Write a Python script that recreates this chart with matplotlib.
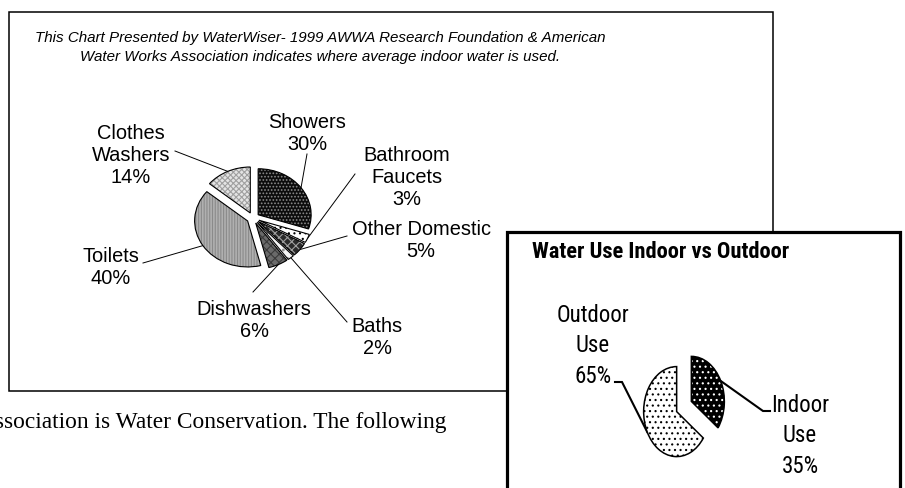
import matplotlib
matplotlib.use('Agg')
import matplotlib.pyplot as plt
import numpy as np
from matplotlib.patches import Rectangle
from matplotlib import font_manager as fm

# ---------------- data ----------------
indoor_categories = ['Showers', 'Bathroom\nFaucets', 'Other Domestic', 'Baths',
                     'Dishwashers', 'Toilets', 'Clothes\nWashers']
indoor_values = [30, 3, 5, 2, 6, 40, 14]
split_categories = ['Indoor\nUse', 'Outdoor\nUse']
split_values = [35, 65]
chart1_title = ['This Chart Presented by WaterWiser- 1999 AWWA Research Foundation & American',
                'Water Works Association indicates where average indoor water is used.']
chart2_title = 'Water Use Indoor vs Outdoor'
body_text = 'Association is Water Conservation. The following'

# ---------------- fonts ----------------
W, H = 905, 489
ARIAL = ['Liberation Sans', 'DejaVu Sans']
SERIF = ['Liberation Serif', 'DejaVu Serif']


def _wt(f):
    w = f.weight
    if isinstance(w, str):
        w = fm.weight_dict.get(w, 400)
    return w


def find_narrow(bold):
    prefs = ['Liberation Sans Narrow', 'Arial Narrow', 'Roboto Condensed',
             'Open Sans Condensed', 'Noto Sans Condensed', 'DejaVu Sans Condensed']
    entries = fm.fontManager.ttflist
    for p in prefs:
        for f in entries:
            if f.name == p and f.style == 'normal' and ((_wt(f) >= 600) == bold):
                return f.fname
    for f in entries:
        if (('Narrow' in f.name or 'Condensed' in f.name or 'condensed' in str(f.stretch))
                and f.style == 'normal' and ((_wt(f) >= 600) == bold)):
            return f.fname
    return None


nar_reg = find_narrow(False)
nar_bold = find_narrow(True)
if nar_reg:
    fp_lab = fm.FontProperties(fname=nar_reg, size=16.5)
else:
    fp_lab = fm.FontProperties(family=ARIAL, size=14.5)
if nar_bold:
    fp_ttl = fm.FontProperties(fname=nar_bold, size=16.2)
elif nar_reg:
    fp_ttl = fm.FontProperties(fname=nar_reg, size=16.2, weight='bold')
else:
    fp_ttl = fm.FontProperties(family=ARIAL, size=13.4, weight='bold')

plt.rcParams['hatch.linewidth'] = 0.8

# pie 1 styling
p1_faces = ['#0c0c0c', '#ffffff', '#2a2a2a', '#f4f4f4', '#6a6a6a', '#b0b0b0', '#e4e4e4']
p1_hatchc = ['#8c8c8c', '#000000', '#a0a0a0', '#909090', '#3a3a3a', '#8a8a8a', '#a0a0a0']
p1_hatch = ['.....', '...', 'xxxx', '..', 'xxxx', '||||||', 'xxxxxx']
# label layout: (center x, first baseline, attach x, attach y)
p1_label_pos = [(307, 128, 307, 155), (407, 161, 355, 175), (421, 235, 347, 237),
                (377, 332, 347, 323), (254, 315, 253, 293), (111, 262, 143, 264),
                (131, 139, 175, 152)]

fig = plt.figure(figsize=(W / 100, H / 100), dpi=100)
ax = fig.add_axes([0, 0, 1, 1])
ax.set_xlim(0, W)
ax.set_ylim(H, 0)
ax.axis('off')

# boxes
ax.add_patch(Rectangle((8.5, 13), 773 - 8.5, 391.5 - 13, fill=False, ec='black', lw=1.1, zorder=1))
ax.add_patch(Rectangle((507, 233), 900 - 507, 300, fc='white', ec='black', lw=2.3, zorder=2))

# titles and text
ax.text(320, 42, chart1_title[0], ha='center', va='baseline', fontsize=10.9,
        style='italic', family=ARIAL, zorder=3)
ax.text(320, 61, chart1_title[1], ha='center', va='baseline', fontsize=10.9,
        style='italic', family=ARIAL, zorder=3)
ax.text(532, 258, chart2_title, ha='left', va='baseline', fontproperties=fp_ttl, zorder=3)
ax.text(-22, 428, body_text, ha='left', va='baseline', fontsize=16.8, family=SERIF, zorder=3)


def put_lines(x, y0, text, dy, **kw):
    for i, line in enumerate(text.split('\n')):
        ax.text(x, y0 + i * dy, line, ha='center', va='baseline', zorder=3, **kw)


def pie_axes(cx, cy, rx, ry, s=1.6):
    a = fig.add_axes([(cx - s * rx) / W, (H - cy - s * ry) / H, 2 * s * rx / W, 2 * s * ry / H])
    a.set_zorder(5)
    a.patch.set_visible(False)
    return a


def finish(a, s=1.6):
    a.set_aspect('auto')
    a.set_xlim(-s, s)
    a.set_ylim(-s, s)
    a.axis('off')


def to_px(a, x, y):
    d = a.transData.transform((x, y))
    return ax.transData.inverted().transform(d)


def edge_point(a, w):
    th = np.deg2rad((w.theta1 + w.theta2) / 2)
    cx, cy = w.center
    return to_px(a, cx + w.r * np.cos(th), cy + w.r * np.sin(th))


# ---------------- pie 1 ----------------
a1 = pie_axes(253, 219, 53, 46)
ex1 = [0.12] * len(indoor_values)
w1, _ = a1.pie(indoor_values, startangle=90, counterclock=False, explode=ex1,
               wedgeprops=dict(linewidth=0))
for w, fc, hc, h in zip(w1, p1_faces, p1_hatchc, p1_hatch):
    w.set_facecolor(fc)
    w.set_edgecolor(hc)
    w.set_hatch(h)
    w.set_linewidth(0)
a1.pie(indoor_values, startangle=90, counterclock=False, explode=ex1,
       wedgeprops=dict(facecolor='none', edgecolor='black', linewidth=0.8))
finish(a1)

for w, cat, val, (lx, ly, tx, ty) in zip(w1, indoor_categories, indoor_values, p1_label_pos):
    put_lines(lx, ly, f'{cat}\n{val}%', 22, fontsize=14.4, family=ARIAL)
    px, py = edge_point(a1, w)
    ax.plot([tx, px], [ty, py], color='black', lw=0.7, zorder=3)

# ---------------- pie 2 ----------------
a2 = pie_axes(684, 407.5, 33, 45)
ex2 = [0.25, 0.25]
w2, _ = a2.pie(split_values, startangle=90, counterclock=False, explode=ex2,
               wedgeprops=dict(linewidth=0))
for w, fc, hc in zip(w2, ['#000000', '#ffffff'], ['#ffffff', '#000000']):
    w.set_facecolor(fc)
    w.set_edgecolor(hc)
    w.set_hatch('...')
    w.set_linewidth(0)
a2.pie(split_values, startangle=90, counterclock=False, explode=ex2,
       wedgeprops=dict(facecolor='none', edgecolor='black', linewidth=1.1))
finish(a2)

# labels pie 2: (center x, first baseline) and leader bend points
p2_label_pos = [(800, 412), (593, 322)]
p2_bends = [[(763, 412), (770, 412)], [(622, 383), (615, 383)]]
for w, cat, val, (lx, ly), bends in zip(w2, split_categories, split_values, p2_label_pos, p2_bends):
    put_lines(lx, ly, f'{cat}\n{val}%', 30.5, fontproperties=fp_lab)
    px, py = edge_point(a2, w)
    xs = [px] + [b[0] for b in bends]
    ys = [py] + [b[1] for b in bends]
    ax.plot(xs, ys, color='black', lw=1.5, zorder=3, solid_joinstyle='miter')

fig.savefig('out.png', dpi=100)
